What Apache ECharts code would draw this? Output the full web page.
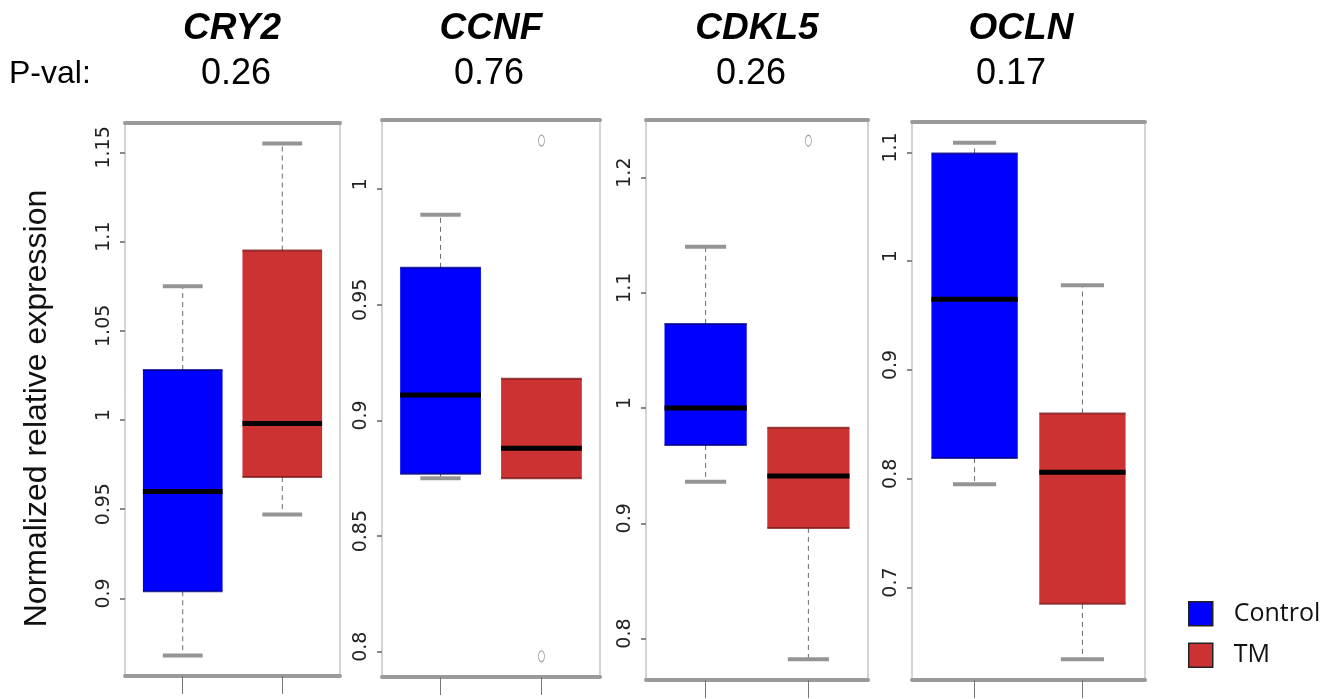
<!DOCTYPE html>
<html>
<head>
<meta charset="utf-8">
<script src="https://cdn.jsdelivr.net/npm/echarts@6/dist/echarts.min.js"></script>
<style>
html,body{margin:0;padding:0;background:#fff;}
#chart{width:1340px;height:699px;}
</style>
</head>
<body>
<div id="chart"></div>
<script>
// ---- data ----
const genes = ['CRY2', 'CCNF', 'CDKL5', 'OCLN'];
const pValues = ['0.26', '0.76', '0.26', '0.17'];
const pLabel = 'P-val:';
const groups = ['Control', 'TM'];
const yTitle = 'Normalized relative expression';

// [lower whisker, Q1, median, Q3, upper whisker]
const cry2Control  = [0.868, 0.904, 0.960, 1.028, 1.075];
const cry2TM       = [0.947, 0.968, 0.998, 1.095, 1.155];
const ccnfControl  = [0.875, 0.877, 0.911, 0.966, 0.989];
const ccnfTM       = [0.875, 0.875, 0.888, 0.918, 0.918];
const cdkl5Control = [0.936, 0.968, 1.000, 1.073, 1.140];
const cdkl5TM      = [0.782, 0.896, 0.941, 0.983, 0.983];
const oclnControl  = [0.795, 0.819, 0.965, 1.099, 1.109];
const oclnTM       = [0.634, 0.685, 0.806, 0.860, 0.978];

// outliers (TM group)
const cry2Outliers  = [];
const ccnfOutliers  = [1.021, 0.798];
const cdkl5Outliers = [1.232];
const oclnOutliers  = [];

// y tick values
const cry2Ticks  = [0.9, 0.95, 1, 1.05, 1.1, 1.15];
const ccnfTicks  = [0.8, 0.85, 0.9, 0.95, 1];
const cdkl5Ticks = [0.8, 0.9, 1, 1.1, 1.2];
const oclnTicks  = [0.7, 0.8, 0.9, 1, 1.1];

// ---- assembly ----
const stats = [[cry2Control, cry2TM], [ccnfControl, ccnfTM], [cdkl5Control, cdkl5TM], [oclnControl, oclnTM]];
const outliers = [cry2Outliers, ccnfOutliers, cdkl5Outliers, oclnOutliers];
const ticks = [cry2Ticks, ccnfTicks, cdkl5Ticks, oclnTicks];

const layout = [
  {left: 125, top: 123, width: 215, height: 553},
  {left: 382, top: 120, width: 218, height: 557},
  {left: 646, top: 120, width: 222, height: 560},
  {left: 912, top: 122, width: 233, height: 558}
];
const fills = ['#0000FF', '#CD3232'];
const edges = ['#00008A', '#7E1A1A'];

function yRange(i) {
  let vals = [];
  stats[i].forEach(s => { vals = vals.concat(s); });
  vals = vals.concat(outliers[i]);
  const lo = Math.min.apply(null, vals), hi = Math.max.apply(null, vals);
  const pad = (hi - lo) * 0.04; // R's default axis extension
  return [lo - pad, hi + pad];
}

function makeRender(g) {
  return function (params, api) {
    const x = api.value(0);
    const lo = api.value(1), q1 = api.value(2), med = api.value(3), q3 = api.value(4), hi = api.value(5);
    const pLo = api.coord([x, lo]), pQ1 = api.coord([x, q1]), pMed = api.coord([x, med]);
    const pQ3 = api.coord([x, q3]), pHi = api.coord([x, hi]);
    const halfBox = api.size([0.4, 0])[0];
    const halfCap = api.size([0.2, 0])[0];
    const cx = pMed[0];
    const dash = {stroke: '#6a6a6a', lineWidth: 1, lineDash: [5, 4]};
    const cap = {stroke: '#949494', lineWidth: 4};
    const children = [];
    if (hi > q3) {
      children.push({type: 'line', shape: {x1: cx, y1: pQ3[1], x2: cx, y2: pHi[1]}, style: dash});
      children.push({type: 'line', shape: {x1: cx - halfCap, y1: pHi[1], x2: cx + halfCap, y2: pHi[1]}, style: cap});
    }
    if (lo < q1) {
      children.push({type: 'line', shape: {x1: cx, y1: pQ1[1], x2: cx, y2: pLo[1]}, style: dash});
      children.push({type: 'line', shape: {x1: cx - halfCap, y1: pLo[1], x2: cx + halfCap, y2: pLo[1]}, style: cap});
    }
    children.push(
      {type: 'rect', shape: {x: cx - halfBox, y: pQ3[1], width: halfBox * 2, height: pQ1[1] - pQ3[1]},
        style: {fill: fills[g]}},
      {type: 'line', shape: {x1: cx - halfBox, y1: pQ3[1], x2: cx + halfBox, y2: pQ3[1]},
        style: {stroke: edges[g], lineWidth: 2, opacity: 0.8}},
      {type: 'line', shape: {x1: cx - halfBox, y1: pQ1[1], x2: cx + halfBox, y2: pQ1[1]},
        style: {stroke: edges[g], lineWidth: 2, opacity: 0.8}},
      {type: 'line', shape: {x1: cx - halfBox, y1: pMed[1], x2: cx + halfBox, y2: pMed[1]},
        style: {stroke: '#000', lineWidth: 5}}
    );
    return {type: 'group', children};
  };
}

const grid = [], xAxis = [], yAxis = [], series = [], graphic = [];
genes.forEach((gene, i) => {
  grid.push(Object.assign({show: true, borderColor: '#a8a8a8', borderWidth: 1, backgroundColor: '#fff'}, layout[i]));
  xAxis.push({
    type: 'value', gridIndex: i, min: 0.42, max: 2.58, position: 'bottom',
    axisLine: {show: true, onZero: false, lineStyle: {color: '#9a9a9a', width: 4}},
    axisTick: {show: true, customValues: [1, 2], length: 18, lineStyle: {color: '#777', width: 1}},
    axisLabel: {show: false}, splitLine: {show: false}
  });
  xAxis.push({
    type: 'value', gridIndex: i, min: 0.42, max: 2.58, position: 'top',
    axisLine: {show: true, onZero: false, lineStyle: {color: '#9a9a9a', width: 4}},
    axisTick: {show: false}, axisLabel: {show: false}, splitLine: {show: false}
  });
  const r = yRange(i);
  const y = {
    type: 'value', gridIndex: i, min: r[0], max: r[1],
    axisLine: {show: false},
    axisTick: {show: true, customValues: ticks[i], length: 5, lineStyle: {color: '#888', width: 2}},
    axisLabel: {
      show: true, customValues: ticks[i], rotate: 90, margin: 11,
      fontSize: 19, fontFamily: 'DejaVu Sans, sans-serif', color: '#222',
      padding: [0, 0, 0, 10],
      formatter: v => String(Math.round(v * 100) / 100)
    },
    splitLine: {show: false}
  };
  if (i === 0) {
    y.name = yTitle;
    y.nameLocation = 'middle';
    y.nameRotate = 90;
    y.nameGap = 72;
    y.nameTextStyle = {fontSize: 32, fontFamily: 'Liberation Sans, Arial, sans-serif', color: '#111', padding: [0, 18, 0, 0]};
  }
  yAxis.push(y);

  groups.forEach((gname, g) => {
    series.push({
      type: 'custom', name: gname, xAxisIndex: 2 * i, yAxisIndex: i,
      itemStyle: {color: fills[g]},
      encode: {x: 0, y: [1, 2, 3, 4, 5]},
      data: [[g + 1].concat(stats[i][g])],
      renderItem: makeRender(g),
      silent: true
    });
  });
  if (outliers[i].length) {
    series.push({
      type: 'scatter', name: 'TM outliers', xAxisIndex: 2 * i, yAxisIndex: i,
      symbol: 'circle', symbolSize: [6, 11],
      itemStyle: {color: '#fff', borderColor: '#888', borderWidth: 1},
      data: outliers[i].map(v => [2, v]), silent: true, z: 5
    });
  }
});

const geneX = [232, 491, 757, 1021];
const pX = [236, 489, 751, 1011];
genes.forEach((gene, i) => {
  graphic.push({type: 'text', x: geneX[i], y: 29, style: {
    text: gene, fill: '#000', font: 'italic bold 37px "Liberation Sans", Arial, sans-serif',
    textAlign: 'center', textVerticalAlign: 'middle', align: 'center', verticalAlign: 'middle'}});
  graphic.push({type: 'text', x: pX[i], y: 74, style: {
    text: pValues[i], fill: '#000', font: '36px "Liberation Sans", Arial, sans-serif',
    textAlign: 'center', textVerticalAlign: 'middle', align: 'center', verticalAlign: 'middle'}});
});
graphic.push({type: 'text', x: 9, y: 74, style: {
  text: pLabel, fill: '#000', font: '32px "Liberation Sans", Arial, sans-serif',
  textAlign: 'left', textVerticalAlign: 'middle', align: 'left', verticalAlign: 'middle'}});

const chart = echarts.init(document.getElementById('chart'), null, {renderer: 'canvas'});
chart.setOption({
  backgroundColor: '#fff',
  animation: false,
  grid, xAxis, yAxis, series, graphic,
  legend: {
    data: groups, orient: 'vertical', left: 1183, top: 596,
    icon: 'rect', itemWidth: 24, itemHeight: 24, itemGap: 16,
    itemStyle: {borderColor: '#222', borderWidth: 1.5},
    textStyle: {fontFamily: 'Open Sans, sans-serif', fontSize: 25, color: '#111', padding: [0, 0, 0, 16]},
    selectedMode: false
  }
});
</script>
</body>
</html>
